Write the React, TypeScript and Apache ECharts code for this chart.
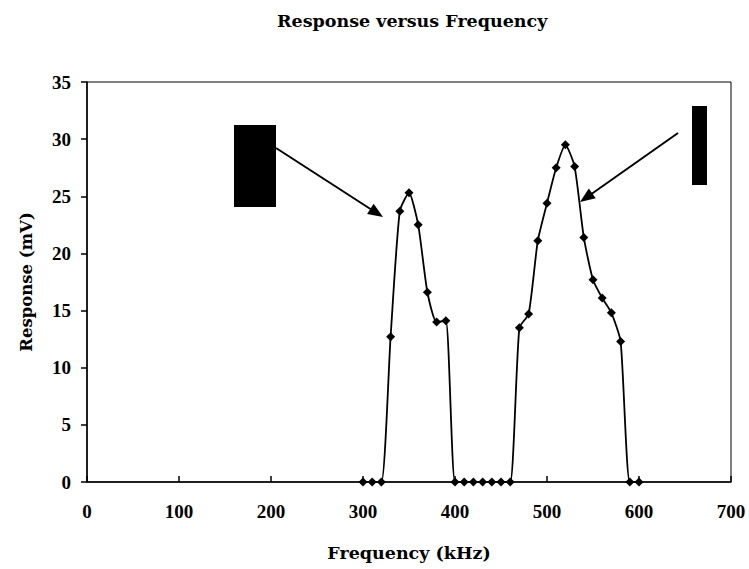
import React, { useEffect, useRef } from "react";
import * as echarts from "echarts";

const frequencyKHz = [
  300, 310, 320, 330, 340, 350, 360, 370, 380, 390, 400, 410, 420, 430, 440, 450,
  460, 470, 480, 490, 500, 510, 520, 530, 540, 550, 560, 570, 580, 590, 600,
];
const responseMV = [
  0, 0, 0, 12.7, 23.7, 25.3, 22.5, 16.6, 14.0, 14.1, 0, 0, 0, 0, 0, 0,
  0, 13.5, 14.7, 21.1, 24.4, 27.5, 29.5, 27.6, 21.4, 17.7, 16.1, 14.8, 12.3, 0, 0,
];
const xTicks = [0, 100, 200, 300, 400, 500, 600, 700];
const yTicks = [0, 5, 10, 15, 20, 25, 30, 35];

const FONT = "Liberation Serif";
const WIDE = "DejaVu Serif";

export default function App() {
  const ref = useRef<HTMLDivElement>(null);
  useEffect(() => {
    if (!ref.current) return;
    const chart = echarts.init(ref.current, null, { renderer: "svg" });
    const arrowHead = (tipX: number, tipY: number, fromX: number, fromY: number) => {
      const ang = Math.atan2(tipY - fromY, tipX - fromX);
      const len = 15;
      const half = 6;
      const bx = tipX - len * Math.cos(ang);
      const by = tipY - len * Math.sin(ang);
      return [
        [tipX, tipY],
        [bx + half * Math.sin(ang), by - half * Math.cos(ang)],
        [bx - half * Math.sin(ang), by + half * Math.cos(ang)],
      ];
    };
    chart.setOption({
      animation: false,
      backgroundColor: "#ffffff",
      title: {
        text: "Response versus Frequency",
        left: 272,
        top: 7,
        textStyle: { fontFamily: WIDE, fontWeight: "bold", fontSize: 17.5, color: "#000" },
      },
      grid: {
        left: 87,
        top: 82,
        width: 644,
        height: 400,
        show: true,
        borderColor: "#000",
        borderWidth: 1,
      },
      xAxis: {
        type: "value",
        min: 0,
        max: 700,
        interval: 100,
        name: "Frequency (kHz)",
        nameLocation: "middle",
        nameGap: 62,
        nameTextStyle: { fontFamily: WIDE, fontWeight: "bold", fontSize: 17.5, color: "#000" },
        axisLine: { show: true, lineStyle: { color: "#000", width: 1.5 } },
        axisTick: { show: true, inside: true, length: 6, lineStyle: { color: "#000", width: 1.5 } },
        axisLabel: {
          fontFamily: FONT,
          fontWeight: "bold",
          fontSize: 19,
          color: "#000",
          margin: 20,
          formatter: (v: number) => (xTicks.includes(v) ? String(v) : ""),
        },
        splitLine: { show: false },
      },
      yAxis: {
        type: "value",
        min: 0,
        max: 35,
        interval: 5,
        name: "Response (mV)",
        nameLocation: "middle",
        nameGap: 52,
        nameRotate: 90,
        nameTextStyle: { fontFamily: WIDE, fontWeight: "bold", fontSize: 16.5, color: "#000" },
        axisLine: { show: true, lineStyle: { color: "#000", width: 1.5 } },
        axisTick: { show: true, inside: false, length: 6, lineStyle: { color: "#000", width: 1.5 } },
        axisLabel: {
          fontFamily: FONT,
          fontWeight: "bold",
          fontSize: 19,
          color: "#000",
          margin: 16,
          formatter: (v: number) => (yTicks.includes(v) ? String(v) : ""),
        },
        splitLine: { show: false },
      },
      series: [
        {
          type: "line",
          data: frequencyKHz.map((f, i) => [f, responseMV[i]]),
          smooth: 0.2,
          symbol: "diamond",
          symbolSize: 9,
          itemStyle: { color: "#000" },
          lineStyle: { color: "#000", width: 1.8 },
        },
      ],
      graphic: [
        { type: "rect", shape: { x: 234, y: 125, width: 42, height: 82 }, style: { fill: "#000" } },
        { type: "rect", shape: { x: 692, y: 106, width: 15, height: 79 }, style: { fill: "#000" } },
        {
          type: "line",
          shape: { x1: 276, y1: 148, x2: 372, y2: 210 },
          style: { stroke: "#000", lineWidth: 2 },
        },
        { type: "polygon", shape: { points: arrowHead(383, 217, 276, 148) }, style: { fill: "#000" } },
        {
          type: "line",
          shape: { x1: 678, y1: 133, x2: 590, y2: 195 },
          style: { stroke: "#000", lineWidth: 2 },
        },
        { type: "polygon", shape: { points: arrowHead(580, 202, 678, 133) }, style: { fill: "#000" } },
      ],
    });
    return () => chart.dispose();
  }, []);
  return (
    <div
      ref={ref}
      style={{ position: "fixed", left: 0, top: 0, width: 749, height: 569, background: "#fff" }}
    />
  );
}
